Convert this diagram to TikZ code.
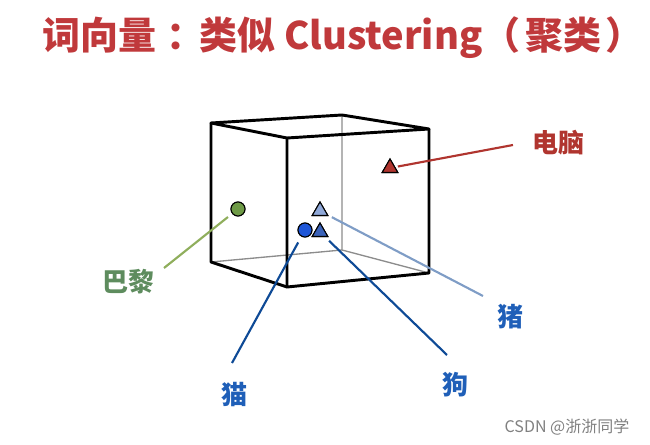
\documentclass[tikz,border=0pt]{standalone}
\usepackage{fontspec}
\newfontfamily\cjk{Noto Sans CJK SC}
\usetikzlibrary{shapes.geometric}
\definecolor{titlered}{HTML}{C0393B}
\definecolor{pcred}{HTML}{B0352F}
\definecolor{parisgreen}{HTML}{5E8C5E}
\definecolor{parisline}{HTML}{8FAE5C}
\definecolor{dotgreen}{HTML}{6E9A46}
\definecolor{animalblue}{HTML}{1F5FB8}
\definecolor{darkline}{HTML}{0E4A96}
\definecolor{pigline}{HTML}{7F9DC6}
\definecolor{pigfill}{HTML}{8FA8D8}
\definecolor{bluefill}{HTML}{1E56D8}
\definecolor{trifill}{HTML}{3A62B8}

\begin{document}
\begin{tikzpicture}
                    [x=0.75pt, y=-0.75pt,
                    edge/.style={black, line width=2.2pt, line join=round},
                    hidden/.style={black!45, line width=1pt},
                    dot/.style={circle, draw=black, line width=0.8pt,
                        minimum size=10.5pt, inner sep=0pt},
                    tri/.style={regular polygon, regular polygon sides=3,
                        draw=black, line width=0.8pt,
                        minimum size=13.5pt, inner sep=0pt},
                    word/.style={font=\cjk\bfseries\fontsize{19.5}{19.5}\selectfont,
                        inner sep=1pt},
                    link/.style={line width=1.6pt}]

                    \useasboundingbox (0,0) rectangle (650,445);

                    % title
                    \node[titlered, font=\cjk\bfseries\fontsize{28.5}{28.5}\selectfont]
                        (title) at (343,38)
                        {词向量\hspace{8pt}：\hspace{-4pt}类似 Clustering（\hspace{4pt}聚类\hspace{3pt}）};

                    % cube corners
                    \coordinate (bTL) at (211,123);
                    \coordinate (bTR) at (342,115);
                    \coordinate (bBL) at (211,262);
                    \coordinate (bBR) at (342,250);
                    \coordinate (fTL) at (287,138);
                    \coordinate (fTR) at (429,129);
                    \coordinate (fBL) at (287,287);
                    \coordinate (fBR) at (429,273);

                    \draw[hidden] (bTR) -- (bBR) -- (bBL)
                                  (bBR) -- (fBR);
                    \draw[edge] (bTL) -- (bTR) -- (fTR) -- (fTL) -- cycle;
                    \draw[edge] (fTL) -- (fBL) -- (fBR) -- (fTR);
                    \draw[edge] (bTL) -- (bBL) -- (fBL);

                    % words
                    \node[dot, fill=dotgreen] (paris) at (238,209) {};
                    \node[tri, fill=pcred] (pc) at (390,168) {};
                    \node[tri, fill=pigfill] (pig) at (320,211) {};
                    \node[dot, fill=bluefill] (cat) at (305,230) {};
                    \node[tri, fill=trifill] (dog) at (320,232) {};

                    \node[word, parisgreen] (parisLbl) at (128,282) {巴黎};
                    \node[word, pcred] (pcLbl) at (558,143) {电脑};
                    \node[word, animalblue] (pigLbl) at (510,317) {猪};
                    \node[word, animalblue] (catLbl) at (234,395) {猫};
                    \node[word, animalblue] (dogLbl) at (455,385) {狗};

                    \coordinate (parisEnd) at (164,268);
                    \coordinate (pcEnd) at (513,145);
                    \coordinate (pigEnd) at (483,296);
                    \coordinate (catEnd) at (232,363);
                    \coordinate (dogEnd) at (447,355);

                    \draw[link, parisline, shorten <=4pt] (paris) -- (parisEnd);
                    \draw[link, pcred, shorten <=2pt] (pc) -- (pcEnd);
                    \draw[link, pigline, shorten <=3pt] (pig) -- (pigEnd);
                    \draw[link, darkline, shorten <=5pt] (cat) -- (catEnd);
                    \draw[link, darkline, shorten <=4pt] (dog) -- (dogEnd);

                    % redraw marks on top
                    \node[dot, fill=dotgreen] at (paris) {};
                    \node[tri, fill=pcred] at (pc) {};
                    \node[tri, fill=pigfill] at (pig) {};
                    \node[dot, fill=bluefill] at (cat) {};
                    \node[tri, fill=trifill] at (dog) {};

                    \node[black!50, font=\cjk\fontsize{12}{12}\selectfont]
                        (mark) at (567,427) {CSDN @浙浙同学};
                \end{tikzpicture}
\end{document}
